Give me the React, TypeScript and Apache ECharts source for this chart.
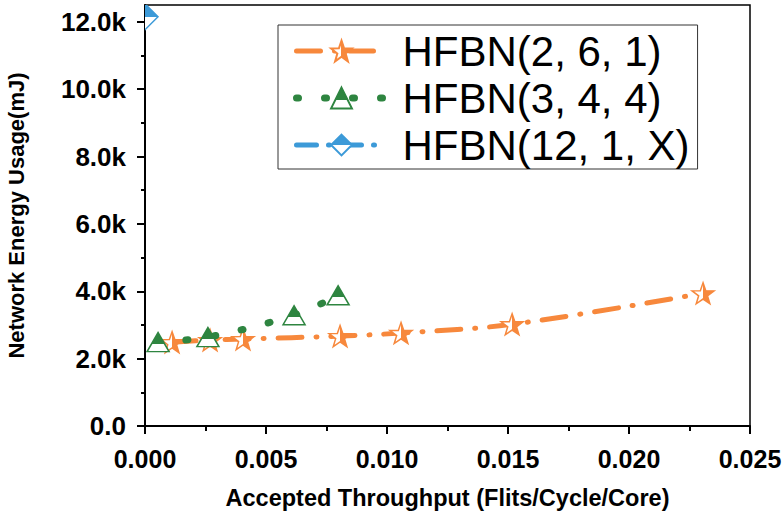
import React, { useEffect, useRef } from "react";
import * as echarts from "echarts";

// ---- data ----
const seriesNames = ["HFBN(2, 6, 1)", "HFBN(3, 4, 4)", "HFBN(12, 1, X)"];
const throughput261 = [0.00112, 0.00269, 0.00405, 0.00806, 0.01058, 0.01517, 0.02306];
const energy261 = [2490, 2550, 2580, 2670, 2760, 3020, 3940];
const throughput344 = [0.00054, 0.0026, 0.00616, 0.00798];
const energy344 = [2490, 2640, 3290, 3880];
const throughput121X = [0];
const energy121X = [12150];
const yMajorTicks = [0, 2000, 4000, 6000, 8000, 10000, 12000];
const yMinorTicks = [1000, 3000, 5000, 7000, 9000, 11000];

const ORANGE = "#F7883C";
const GREEN = "#2E8540";
const BLUE = "#3C9AD8";
const FONT = "Liberation Sans, Arial, sans-serif";

const STAR =
  "path://M50 0 L61.76 33.82 L97.55 34.55 L69.02 56.18 L79.39 90.45 L50 70 L20.61 90.45 L30.98 56.18 L2.45 34.55 L38.24 33.82 Z";

const LINE_261 = { color: ORANGE, width: 5, type: [24, 14, 1, 14], cap: "round" };
const LINE_344 = { color: GREEN, width: 7, type: [2, 26], cap: "round" };
const LINE_121X = { color: BLUE, width: 5, type: [20, 12, 1, 12], cap: "round" };

const grad = (c: string, vertical: boolean, split: number, filledFirst: boolean) => {
  const a = filledFirst ? c : "#ffffff";
  const b = filledFirst ? "#ffffff" : c;
  return new echarts.graphic.LinearGradient(0, 0, vertical ? 0 : 1, vertical ? 1 : 0, [
    { offset: 0, color: a },
    { offset: split, color: a },
    { offset: split, color: b },
    { offset: 1, color: b },
  ]);
};

export default function App() {
  const ref = useRef<HTMLDivElement>(null);
  useEffect(() => {
    if (!ref.current) return;
    const chart = echarts.init(ref.current, undefined, { renderer: "svg" });
    const pairs = (xs: number[], ys: number[]) => xs.map((x, i) => [x, ys[i]]);
    const fmtY = (v: number) => (v === 0 ? "0.0" : (v / 1000).toFixed(1) + "k");
    const lines = [LINE_261, LINE_344, LINE_121X];
    chart.setOption({
      animation: false,
      textStyle: { fontFamily: FONT },
      grid: { left: 145, right: 33, top: 5, bottom: 91, show: true, borderColor: "#000", borderWidth: 1.5, outerBoundsMode: "none" },
      legend: {
        data: seriesNames.map((n, i) => ({ name: n, lineStyle: lines[i] })),
        orient: "vertical",
        left: 278,
        top: 25,
        padding: [4, 8, 2, 15],
        itemWidth: 90,
        itemHeight: 26,
        itemGap: 3,
        borderColor: "#333",
        borderWidth: 1,
        backgroundColor: "#fff",
        textStyle: { fontSize: 42, color: "#000", fontFamily: FONT, lineHeight: 44, padding: [0, 0, 0, 11] },
      },
      xAxis: {
        type: "value",
        min: 0,
        max: 0.025,
        interval: 0.005,
        name: "Accepted Throughput (Flits/Cycle/Core)",
        nameLocation: "middle",
        nameGap: 60,
        nameTextStyle: { fontSize: 23.5, fontWeight: "bold", color: "#000", fontFamily: FONT },
        axisLine: { lineStyle: { color: "#000", width: 2 } },
        axisTick: { show: true, inside: false, length: 8, lineStyle: { color: "#000", width: 2 } },
        minorTick: { show: true, splitNumber: 2, length: 5, lineStyle: { color: "#000", width: 2 } },
        splitLine: { show: false },
        axisLabel: { margin: 20, fontSize: 25, fontWeight: "bold", color: "#000", fontFamily: FONT, formatter: (v: number) => v.toFixed(3) },
      },
      yAxis: [
        {
          type: "value",
          min: 0,
          max: 12500,
          name: "Network Energy Usage(mJ)",
          nameLocation: "middle",
          nameGap: 118,
          nameTextStyle: { fontSize: 22, fontWeight: "bold", color: "#000", fontFamily: FONT },
          axisLine: { show: true, lineStyle: { color: "#000", width: 2 } },
          axisTick: { show: true, customValues: yMajorTicks, length: 8, lineStyle: { color: "#000", width: 2 } },
          splitLine: { show: false },
          axisLabel: { customValues: yMajorTicks, margin: 19, fontSize: 26, fontWeight: "bold", color: "#000", fontFamily: FONT, formatter: fmtY },
        },
        {
          type: "value",
          min: 0,
          max: 12500,
          position: "left",
          axisLine: { show: false },
          axisTick: { show: true, customValues: yMinorTicks, length: 4, lineStyle: { color: "#000", width: 2 } },
          splitLine: { show: false },
          axisLabel: { show: false },
        },
      ],
      series: [
        {
          name: seriesNames[0],
          type: "line",
          data: pairs(throughput261, energy261),
          smooth: 0.35,
          symbol: STAR,
          symbolKeepAspect: true,
          symbolSize: 22,
          lineStyle: LINE_261,
          itemStyle: { color: grad(ORANGE, false, 0.5, false), borderColor: ORANGE, borderWidth: 1.5 },
          z: 3,
        },
        {
          name: seriesNames[1],
          type: "line",
          data: pairs(throughput344, energy344),
          smooth: 0.35,
          symbol: "triangle",
          symbolSize: [22, 19],
          lineStyle: LINE_344,
          itemStyle: { color: grad(GREEN, true, 0.58, true), borderColor: GREEN, borderWidth: 1.5 },
          z: 4,
        },
        {
          name: seriesNames[2],
          type: "line",
          data: [],
          symbol: "diamond",
          symbolSize: 26,
          lineStyle: LINE_121X,
          itemStyle: { color: grad(BLUE, true, 0.5, true), borderColor: BLUE, borderWidth: 1.5 },
        },
        {
          name: "__blueMarker",
          type: "custom",
          coordinateSystem: "cartesian2d",
          clip: true,
          data: pairs(throughput121X, energy121X),
          renderItem: (_p: any, api: any) => {
            const pt = api.coord([api.value(0), api.value(1)]);
            return {
              type: "path",
              shape: { pathData: "M13 0 L26 13 L13 26 L0 13 Z", x: pt[0] - 13, y: pt[1] - 13, width: 26, height: 26 },
              style: { fill: grad(BLUE, true, 0.5, true), stroke: BLUE, lineWidth: 1.5 },
            };
          },
          z: 2,
        },
      ],
    });
    return () => chart.dispose();
  }, []);
  return <div ref={ref} style={{ width: 783, height: 517, position: "absolute", left: 0, top: 0 }} />;
}
